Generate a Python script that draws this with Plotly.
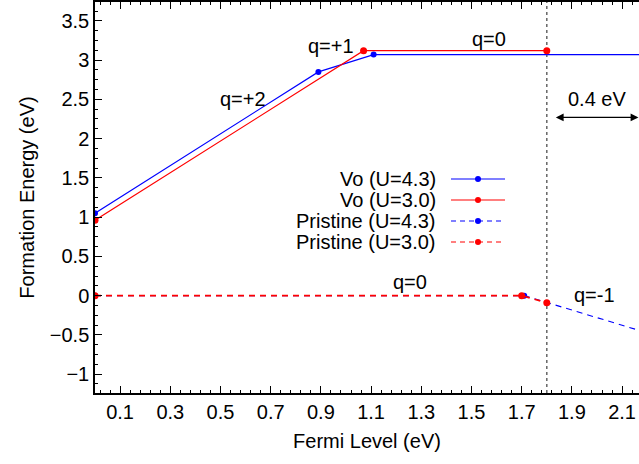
import plotly.graph_objects as go

# Formation energy vs Fermi level
vo43_x = [0.0, 0.89, 1.11, 2.30]
vo43_y = [1.05, 2.85, 3.07, 3.07]
vo30_x = [0.0, 1.07, 1.80]
vo30_y = [0.96, 3.12, 3.12]
pr43_x = [0.0, 1.71, 2.30]
pr43_y = [0.0, 0.0, -0.57]
pr30_x = [0.0, 1.70, 1.80]
pr30_y = [0.0, 0.0, -0.09]

vbm_cbm_line = 1.8
gap_arrow = [1.83, 2.165]
gap_arrow_y = 2.27

charge_labels = [
    ("q=+2", 0.59, 2.50),
    ("q=+1", 0.94, 3.18),
    ("q=0", 1.57, 3.27),
    ("q=0", 1.255, 0.17),
    ("q=-1", 1.99, 0.01),
    ("0.4 eV", 2.00, 2.50),
]

legend_names = ["Vo (U=4.3)", "Vo (U=3.0)", "Pristine (U=4.3)", "Pristine (U=3.0)"]

BLUE = "#0000ff"
RED = "#ff0000"
FONT = "Liberation Sans, Arial, sans-serif"
FS = 20

W, H = 639, 464
ML, MR, MT, MB = 95, 0, 2, 71
X_RANGE = [0.0, (W - ML - MR) / 251.0]
Y_RANGE = [-1.24, 3.74]

fig = go.Figure()


def add_series(x, y, color, dash, size, width):
    sizes = [size if (X_RANGE[0] <= xv <= X_RANGE[1]) else 0 for xv in x]
    fig.add_trace(go.Scatter(
        x=x, y=y, mode="lines+markers",
        line=dict(color=color, width=width, dash=dash),
        marker=dict(color=color, size=sizes, opacity=1, line=dict(width=0)),
        showlegend=False, hoverinfo="skip",
    ))


add_series(pr43_x, pr43_y, BLUE, "6px,5px", 6, 1.1)
add_series(pr30_x, pr30_y, RED, "6px,5px", 7, 1.6)
add_series(vo43_x, vo43_y, BLUE, "solid", 6, 1.2)
add_series(vo30_x, vo30_y, RED, "solid", 7, 1.2)

# vertical dotted line marking the band edge
fig.add_shape(type="line", x0=vbm_cbm_line, x1=vbm_cbm_line, y0=0, y1=1,
              xref="x", yref="paper", layer="below",
              line=dict(color="#666666", width=1.5, dash="dot"))

# double arrow for the 0.4 eV offset
fig.add_annotation(x=gap_arrow[1], y=gap_arrow_y, ax=gap_arrow[0], ay=gap_arrow_y,
                   xref="x", yref="y", axref="x", ayref="y",
                   showarrow=True, arrowhead=2, arrowside="end+start",
                   arrowsize=1.2, arrowwidth=1.3, arrowcolor="black", text="")

for txt, x, y in charge_labels:
    fig.add_annotation(x=x, y=y, text=txt, showarrow=False,
                       font=dict(family=FONT, size=FS, color="black"))

# hand-built legend: text right-aligned, sample on the right
pw = W - ML - MR
ph = H - MT - MB
legend_colors = [BLUE, RED, BLUE, RED]
legend_dash = ["solid", "solid", "5px,4px", "5px,4px"]
legend_rows_px = [179, 200, 221, 242]
for name, col, dsh, py in zip(legend_names, legend_colors, legend_dash, legend_rows_px):
    yp = (H - MB - py) / ph
    fig.add_annotation(x=(438 - ML) / pw, y=yp, xref="paper", yref="paper",
                       text=name, showarrow=False, xanchor="right", yanchor="middle",
                       font=dict(family=FONT, size=FS, color="black"))
    fig.add_shape(type="line", xref="paper", yref="paper",
                  x0=(451 - ML) / pw, x1=(505 - ML) / pw, y0=yp, y1=yp,
                  line=dict(color=col, width=1.2, dash=dsh))
    r = 3
    fig.add_shape(type="circle", xref="paper", yref="paper",
                  x0=(478 - r - ML) / pw, x1=(478 + r - ML) / pw,
                  y0=yp - r / ph, y1=yp + r / ph,
                  fillcolor=col, line=dict(color=col, width=0))

fig.update_xaxes(
    range=X_RANGE, tick0=0.1, dtick=0.2, ticks="inside", ticklen=7, tickwidth=1,
    tickcolor="black", showline=True, linecolor="black", linewidth=1.5,
    mirror="ticks", showgrid=False, zeroline=False,
    minor=dict(dtick=0.04, tick0=0.1, ticks="inside", ticklen=3.5, tickcolor="black", showgrid=False),
    tickfont=dict(family=FONT, size=FS, color="black"),
    title=dict(text="Fermi Level (eV)", font=dict(family=FONT, size=FS, color="black"), standoff=12),
)
fig.update_yaxes(
    range=Y_RANGE, tick0=0, dtick=0.5, ticks="inside", ticklen=7, tickwidth=1,
    tickcolor="black", showline=True, linecolor="black", linewidth=1.5,
    mirror=False, showgrid=False, zeroline=False,
    minor=dict(dtick=0.125, tick0=0, ticks="inside", ticklen=3.5, tickcolor="black", showgrid=False),
    tickfont=dict(family=FONT, size=FS, color="black"),
    title=dict(text="Formation Energy (eV)", font=dict(family=FONT, size=FS, color="black"), standoff=10),
)

fig.update_layout(
    width=W, height=H,
    margin=dict(l=ML, r=MR, t=MT, b=MB),
    paper_bgcolor="white", plot_bgcolor="white",
    showlegend=False,
)

fig.write_html("out.html")
